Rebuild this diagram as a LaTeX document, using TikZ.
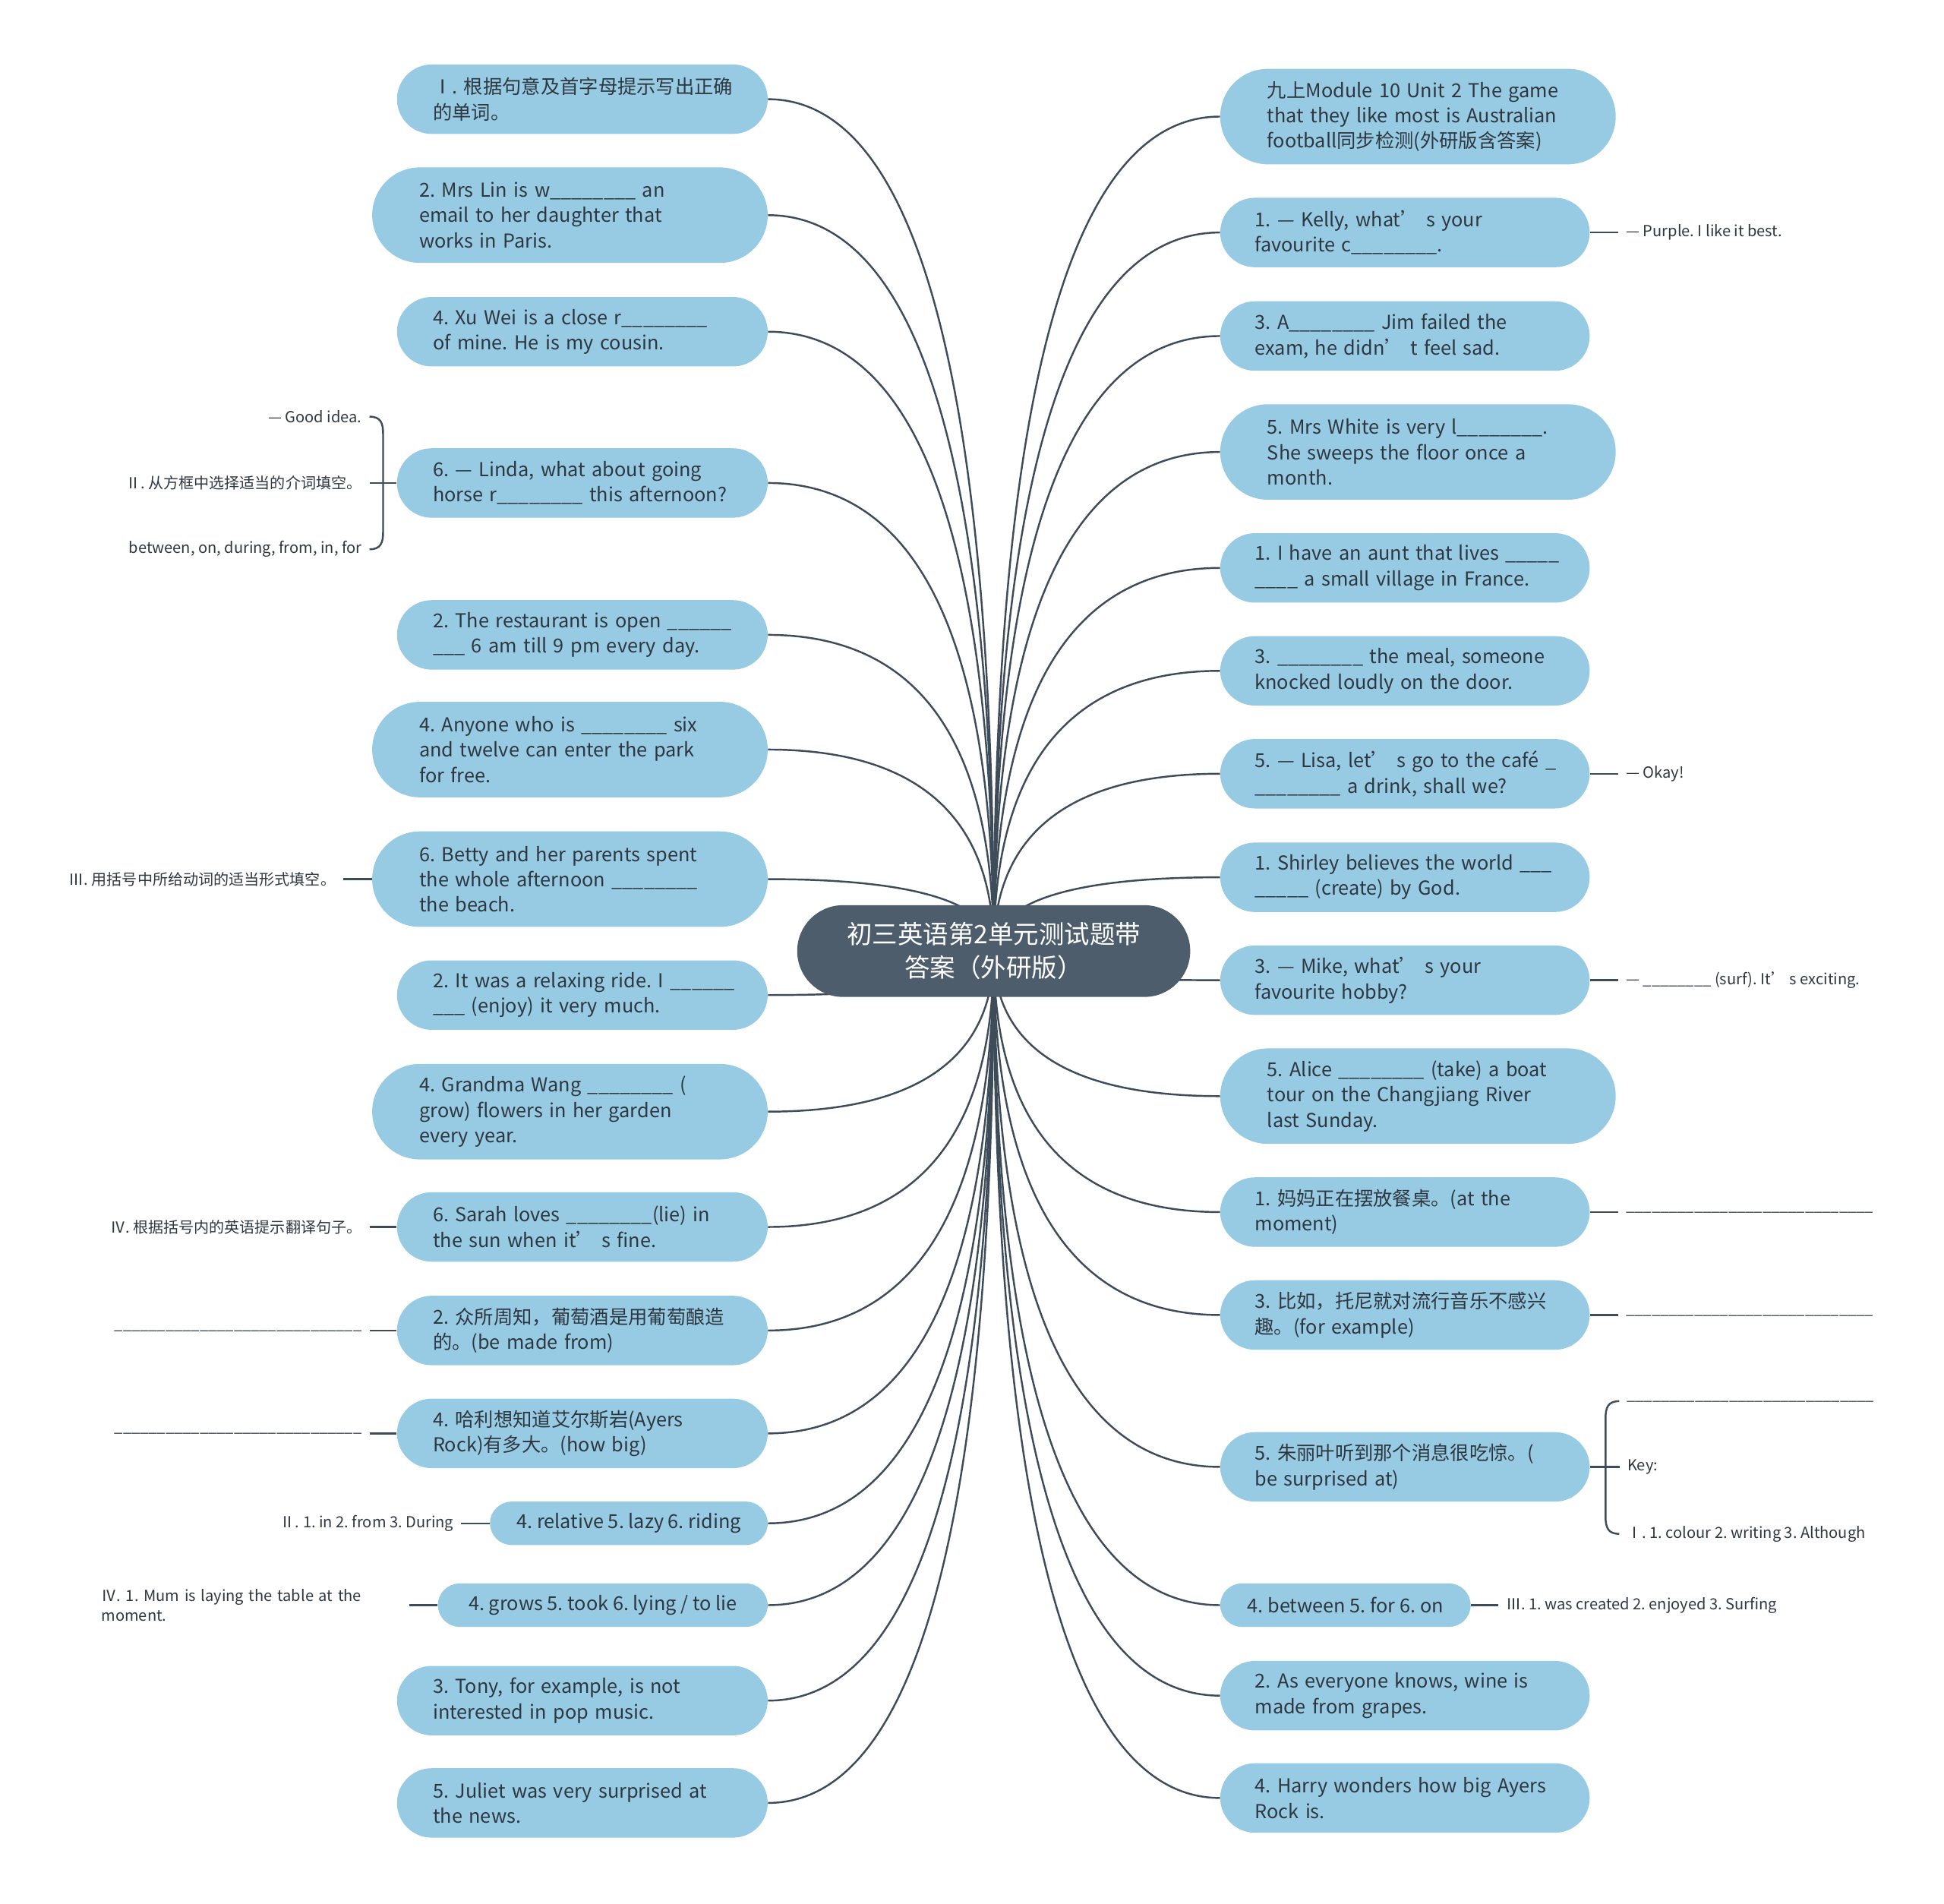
\documentclass[tikz,border=0pt]{standalone}
\usepackage{fontspec}
\setmainfont{Noto Sans CJK SC}
\usetikzlibrary{positioning,calc,backgrounds}
\definecolor{boxblue}{HTML}{97CBE3}
\definecolor{hubslate}{HTML}{4E5D6C}
\definecolor{wirecol}{HTML}{3E4C5A}
\definecolor{ink}{HTML}{2E3740}
\newcommand{\fillin}[1]{\foreach\k in {1,...,#1}{\_}}
\frenchspacing

\begin{document}
\begin{tikzpicture}[x=1pt, y=1pt,
    every node/.style={text=ink, font=\fontsize{15.5}{20.5}\selectfont},
    pill/.style={fill=boxblue, anchor=west, align=left, inner ysep=0pt,
        execute at begin node={\rightskip=0pt plus 1fil minus 80pt}},
    two/.style={pill, minimum height=56, rounded corners=28, inner xsep=29, text width=241},
    three/.style={pill, minimum height=77, rounded corners=38.5, inner xsep=38, text width=243},
    tworight/.style={pill, minimum height=56, rounded corners=28, inner xsep=28, text width=242},
    one/.style={pill, minimum height=35, rounded corners=17.5, inner xsep=0, align=center},
    hub/.style={fill=hubslate, text=white, minimum width=317, minimum height=74,
        rounded corners=37, align=center, font=\fontsize{20.5}{27}\selectfont},
    note/.style={font=\fontsize{12.3}{16}\selectfont, inner xsep=6, inner ysep=2},
    wire/.style={draw=wirecol, line width=1.5},
    stub/.style={draw=wirecol, line width=1.5}
  ]
  \useasboundingbox (0,0) rectangle (1568,-1535);

  % centre
  \node[hub] (c) at (801.5,-767) {初三英语第2单元测试题带\\答案（外研版）};

  % left side
  \node[two] (L1) at (320,-80) {Ⅰ. 根据句意及首字母提示写出正确\\的单词。};
  \node[three] (L2) at (300,-173.5) {2. Mrs Lin is w\fillin{8} an\\email to her daughter that\\works in Paris.};
  \node[two] (L3) at (320,-267.5) {4. Xu Wei is a close r\fillin{8}\\of mine. He is my cousin.};
  \node[two] (L4) at (320,-389.5) {6. — Linda, what about going\\horse r\fillin{8} this afternoon?};
  \node[two] (L5) at (320,-512) {2. The restaurant is open \fillin{6}\\\fillin{3} 6 am till 9 pm every day.};
  \node[three] (L6) at (300,-604.5) {4. Anyone who is \fillin{8} six\\and twelve can enter the park\\for free.};
  \node[three] (L7) at (300,-709) {6. Betty and her parents spent\\the whole afternoon \fillin{8}\\the beach.};
  \node[two] (L8) at (320,-802.5) {2. It was a relaxing ride. I \fillin{6}\\\fillin{3} (enjoy) it very much.};
  \node[three] (L9) at (300,-896.5) {4. Grandma Wang \fillin{8} (\\grow) flowers in her garden\\every year.};
  \node[two] (L10) at (320,-989.5) {6. Sarah loves \fillin{8}(lie) in\\the sun when it’ s fine.};
  \node[two] (L11) at (320,-1073) {2. 众所周知，葡萄酒是用葡萄酿造\\的。(be made from)};
  \node[two] (L12) at (320,-1156) {4. 哈利想知道艾尔斯岩(Ayers\\Rock)有多大。(how big)};
  \node[one, minimum width=224] (L13) at (395,-1228.5) {4. relative 5. lazy 6. riding};
  \node[one, minimum width=266] (L14) at (353,-1294.5) {4. grows 5. took 6. lying / to lie};
  \node[two] (L15) at (320,-1371.5) {3. Tony, for example, is not\\interested in pop music.};
  \node[two] (L16) at (320,-1454) {5. Juliet was very surprised at\\the news.};

  % right side
  \node[three, align=center, execute at begin node={\rightskip=0pt plus 1fil}] (R1) at (984,-94)
    {九上Module 10 Unit 2 The game\\that they like most is Australian\\football同步检测(外研版含答案)};
  \node[tworight] (R2) at (984,-187.5) {1. — Kelly, what’ s your\\favourite c\fillin{8}.};
  \node[tworight] (R3) at (984,-271) {3. A\fillin{8} Jim failed the\\exam, he didn’ t feel sad.};
  \node[three] (R4) at (984,-364.5) {5. Mrs White is very l\fillin{8}.\\She sweeps the floor once a\\month.};
  \node[tworight] (R5) at (984,-458) {1. I have an aunt that lives \fillin{5}\\\fillin{4} a small village in France.};
  \node[tworight] (R6) at (984,-541) {3. \fillin{8} the meal, someone\\knocked loudly on the door.};
  \node[tworight] (R7) at (984,-624) {5. — Lisa, let’ s go to the café \_\\\fillin{8} a drink, shall we?};
  \node[tworight] (R8) at (984,-707.5) {1. Shirley believes the world \fillin{3}\\\fillin{5} (create) by God.};
  \node[tworight] (R9) at (984,-790.5) {3. — Mike, what’ s your\\favourite hobby?};
  \node[three] (R10) at (984,-884) {5. Alice \fillin{8} (take) a boat\\tour on the Changjiang River\\last Sunday.};
  \node[tworight] (R11) at (984,-977.5) {1. 妈妈正在摆放餐桌。(at the\\moment)};
  \node[tworight] (R12) at (984,-1060.5) {3. 比如，托尼就对流行音乐不感兴\\趣。(for example)};
  \node[tworight] (R13) at (984,-1183) {5. 朱丽叶听到那个消息很吃惊。(\\be surprised at)};
  \node[one, minimum width=202] (R14) at (984,-1294.5) {4. between 5. for 6. on};
  \node[tworight] (R15) at (984,-1367.5) {2. As everyone knows, wine is\\made from grapes.};
  \node[tworight] (R16) at (984,-1450) {4. Harry wonders how big Ayers\\Rock is.};

  % branches to the centre
  \begin{scope}[on background layer]
    \foreach \i in {1,...,16}{
      \draw[wire] (L\i.east) .. controls ($(L\i.east)!0.85!(L\i.east -| c)$)
        and ($(c.center)!0.45!(L\i.east -| c)$) .. (c.center);
      \draw[wire] (R\i.west) .. controls ($(R\i.west)!0.85!(R\i.west -| c)$)
        and ($(c.center)!0.45!(R\i.west -| c)$) .. (c.center);
    }
  \end{scope}

  % notes on the left
  \node[note, anchor=east] (L4a) at (298,-336) {— Good idea.};
  \node[note, left=22pt of L4] (L4b) {Ⅱ. 从方框中选择适当的介词填空。};
  \node[note, anchor=east] (L4c) at (298,-443) {between, on, during, from, in, for};
  \draw[stub] (L4b.east) -- (L4.west);
  \draw[stub] (L4a.east) .. controls ([xshift=9]L4a.east) and ([xshift=11,yshift=-5]L4a.east)
    .. ([xshift=11,yshift=-14]L4a.east) -- ([xshift=11,yshift=14]L4c.east)
    .. controls ([xshift=11,yshift=5]L4c.east) and ([xshift=9]L4c.east) .. (L4c.east);

  \node[note, left=23pt of L7] (L7a) {Ⅲ. 用括号中所给动词的适当形式填空。};
  \node[note, left=22pt of L10] (L10a) {Ⅳ. 根据括号内的英语提示翻译句子。};
  \node[note, left=22pt of L11] (L11a) {\fillin{29}};
  \node[note, left=22pt of L12] (L12a) {\fillin{29}};
  \node[note, left=23pt of L13] (L13a) {Ⅱ. 1. in 2. from 3. During};
  \node[note, left=23pt of L14, text width=242, align=left] (L14a) {Ⅳ. 1. Mum is laying the table at the\\moment.};
  \foreach \n in {L7,L10,L11,L12,L13,L14}
    \draw[stub] (\n a.east) -- (\n.west);

  % notes on the right
  \node[note, right=23pt of R2] (R2a) {— Purple. I like it best.};
  \node[note, right=23pt of R7] (R7a) {— Okay!};
  \node[note, right=23pt of R9] (R9a) {— \fillin{8} (surf). It’ s exciting.};
  \node[note, right=23pt of R11] (R11a) {\fillin{29}};
  \node[note, right=23pt of R12] (R12a) {\fillin{29}};
  \node[note, right=22pt of R14] (R14a) {Ⅲ. 1. was created 2. enjoyed 3. Surfing};
  \foreach \n in {R2,R7,R9,R11,R12,R14}
    \draw[stub] (\n.east) -- (\n a.west);

  \node[note, anchor=west] (R13a) at (1306,-1130) {\fillin{29}};
  \node[note, right=24pt of R13] (R13b) {Key:};
  \node[note, anchor=west] (R13c) at (1306,-1237) {Ⅰ. 1. colour 2. writing 3. Although};
  \draw[stub] (R13.east) -- (R13b.west);
  \draw[stub] (R13a.west) .. controls ([xshift=-9]R13a.west) and ([xshift=-11,yshift=-5]R13a.west)
    .. ([xshift=-11,yshift=-14]R13a.west) -- ([xshift=-11,yshift=14]R13c.west)
    .. controls ([xshift=-11,yshift=5]R13c.west) and ([xshift=-9]R13c.west) .. (R13c.west);
\end{tikzpicture}
\end{document}
